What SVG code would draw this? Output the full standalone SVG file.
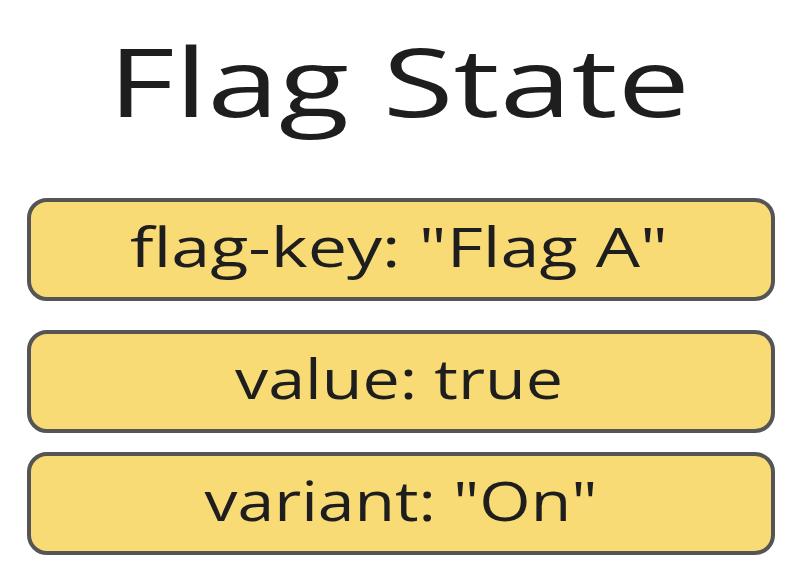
<svg xmlns="http://www.w3.org/2000/svg" width="802" height="588" viewBox="0 0 802 588">
<style>
.box{fill:#f9db75;stroke:#555555;stroke-width:4}
.t{font-family:"Open Sans","Liberation Sans",sans-serif;fill:#1e1e1e;text-anchor:middle}
.lbl{font-size:54px}
.title{font-size:96px}
</style>
<rect width="802" height="588" fill="#ffffff"/>
<g id="title"><text class="t title" x="399" y="117" textLength="582" lengthAdjust="spacingAndGlyphs">Flag State</text></g>
<g id="flag-key">
<rect class="box" x="29" y="200" width="744" height="99" rx="18"/>
<text class="t lbl" x="399" y="267" textLength="538" lengthAdjust="spacingAndGlyphs">flag-key: "Flag A"</text>
</g>
<g id="value">
<rect class="box" x="29" y="332" width="744" height="99" rx="18"/>
<text class="t lbl" x="399" y="399" textLength="328" lengthAdjust="spacingAndGlyphs">value: true</text>
</g>
<g id="variant">
<rect class="box" x="29" y="454" width="744" height="99" rx="18"/>
<text class="t lbl" x="401" y="521" textLength="393" lengthAdjust="spacingAndGlyphs">variant: "On"</text>
</g>
<g id="connectors"></g>
</svg>
